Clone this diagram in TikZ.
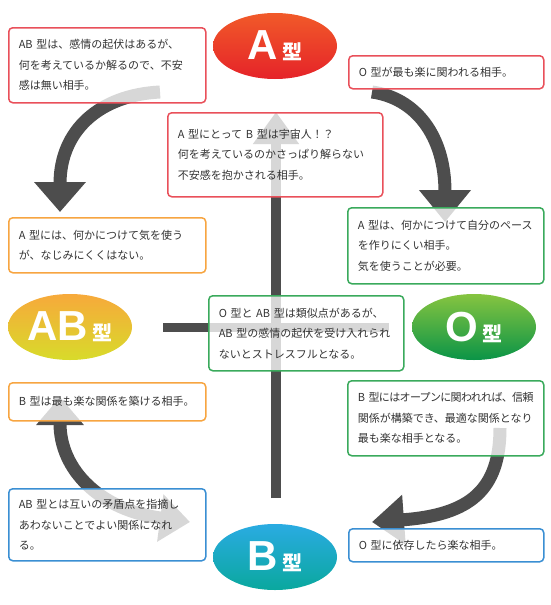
\documentclass[tikz,border=0pt]{standalone}
\usepackage{fontspec}
\setmainfont{Noto Sans CJK JP}
\newfontfamily\letterfont{Liberation Sans}
\usetikzlibrary{positioning,shapes.geometric,arrows.meta}

\definecolor{arrowgray}{HTML}{4D4D4D}
\definecolor{textgray}{HTML}{333333}
\definecolor{boxred}{HTML}{E9505A}
\definecolor{boxorange}{HTML}{F7A541}
\definecolor{boxgreen}{HTML}{3AAA5C}
\definecolor{boxblue}{HTML}{3A8FD3}
\definecolor{aTop}{HTML}{F15A29}
\definecolor{aBottom}{HTML}{E52329}
\definecolor{abTop}{HTML}{F7A93B}
\definecolor{abBottom}{HTML}{D8DB2A}
\definecolor{oTop}{HTML}{86C440}
\definecolor{oBottom}{HTML}{0A9447}
\definecolor{bTop}{HTML}{2AABE2}
\definecolor{bBottom}{HTML}{0AA89E}

% big letter + small 型 inside an ellipse
\newcommand{\typelabel}[1]{{\letterfont\bfseries\fontsize{42}{42}\selectfont #1}\hspace{4pt}{\bfseries\fontsize{20}{20}\selectfont 型}}

\begin{document}
\begin{tikzpicture}[x=1pt, y=-1pt,
    every node/.style={font=\fontsize{11}{20.5}\selectfont, text=textgray},
    notebox/.style={draw=#1, line width=1.5pt, rounded corners=4pt, fill=white, fill opacity=0.78, text opacity=1, inner xsep=10pt, inner ysep=6pt, align=left, anchor=north west},
    typeoval/.style 2 args={ellipse, minimum width=124pt, minimum height=66pt, inner sep=0pt, top color=#1, bottom color=#2, text=white},
    bigarrow/.style={draw=arrowgray, line width=13pt}]
            \useasboundingbox (0,0) rectangle (550,605);

            % Ends of the big arrows
            \coordinate (leftStart) at (160,92);
            \coordinate (leftEnd) at (60,212);
            \coordinate (rightStart) at (372,92);
            \coordinate (rightEnd) at (445,222);
            \coordinate (lowRightStart) at (500,428);
            \coordinate (lowRightEnd) at (372,522);
            \coordinate (lowLeftTop) at (60,397);
            \coordinate (lowLeftEnd) at (190,522);
            \coordinate (upStart) at (276,498);
            \coordinate (upEnd) at (276,112);
            \coordinate (barStart) at (163,327);
            \coordinate (barEnd) at (389,327);

            % Arrows (drawn first, the boxes lie on top)
            \draw[bigarrow, -{Triangle[width=50pt,length=30pt]}]
            (leftStart) .. controls (100,95) and (60,130) .. (leftEnd);
            \draw[bigarrow, -{Triangle[width=50pt,length=32pt]}]
            (rightStart) .. controls (415,98) and (445,135) .. (rightEnd);
            \draw[bigarrow, -{Triangle[width=48pt,length=32pt]}]
            (lowRightStart) .. controls (500,490) and (470,515) .. (lowRightEnd);
            \draw[bigarrow, {Triangle[width=46pt,length=28pt]}-{Triangle[width=46pt,length=30pt]}]
            (lowLeftTop) .. controls (60,470) and (100,510) .. (lowLeftEnd);
            \draw[draw=arrowgray, line width=10pt, -{Triangle[width=44pt,length=32pt]}] (upStart) -- (upEnd);
            \draw[draw=arrowgray, line width=9pt] (barStart) -- (barEnd);

            % Blood types
            \node[typeoval={aTop}{aBottom}] (typeA) at (275,46) {\typelabel{A}};
            \node[typeoval={abTop}{abBottom}] (typeAB) at (70,327) {\typelabel{AB}};
            \node[typeoval={oTop}{oBottom}] (typeO) at (474,327) {\typelabel{O}};
            \node[typeoval={bTop}{bBottom}] (typeB) at (275,557) {\typelabel{B}};

            % A型から見て
            \node[notebox=boxred, text width=177pt, minimum height=75pt] (noteAab) at (8,27) {
            AB~型は、感情の起伏はあるが、\\何を考えているか解るので、不安\\感は無い相手。};
            \node[notebox=boxred, text width=175pt, minimum height=33pt] (noteAo) at (348,55) {
            O~型が最も楽に関われる相手。};
            \node[notebox=boxred, text width=195pt, minimum height=84pt] (noteAb) at (167,112) {
            A~型にとって~B~型は宇宙人！？\\何を考えているのかさっぱり解らない\\不安感を抱かされる相手。};

            % AB型から見て
            \node[notebox=boxorange, text width=177pt, minimum height=55pt] (noteABa) at (8,217) {
            A~型には、何かにつけて気を使う\\が、なじみにくくはない。};
            \node[notebox=boxorange, text width=177pt, minimum height=38pt] (noteABb) at (8,382) {
            B~型は最も楽な関係を築ける相手。};

            % O型から見て
            \node[notebox=boxgreen, text width=176pt, minimum height=76pt] (noteOa) at (347,207) {
            A~型は、何かにつけて自分のペース\\を作りにくい相手。\\気を使うことが必要。};
            \node[notebox=boxgreen, text width=175pt, minimum height=75pt] (noteOab) at (208,295) {
            O~型と~AB~型は類似点があるが、\\AB~型の感情の起伏を受け入れられ\\ないとストレスフルとなる。};
            \node[notebox=boxgreen, text width=176pt, minimum height=75pt] (noteOb) at (347,380) {
            {\addfontfeature{LetterSpace=-6}B~型にはオープンに関われれば、信頼}\\関係が構築でき、最適な関係となり\\最も楽な相手となる。};

            % B型から見て
            \node[notebox=boxblue, text width=177pt, minimum height=72pt] (noteBab) at (8,488) {
            AB~型とは互いの矛盾点を指摘し\\あわないことでよい関係になれ\\る。};
            \node[notebox=boxblue, text width=175pt, minimum height=33pt] (noteBo) at (348,528) {
            O~型に依存したら楽な相手。};
        \end{tikzpicture}
\end{document}
